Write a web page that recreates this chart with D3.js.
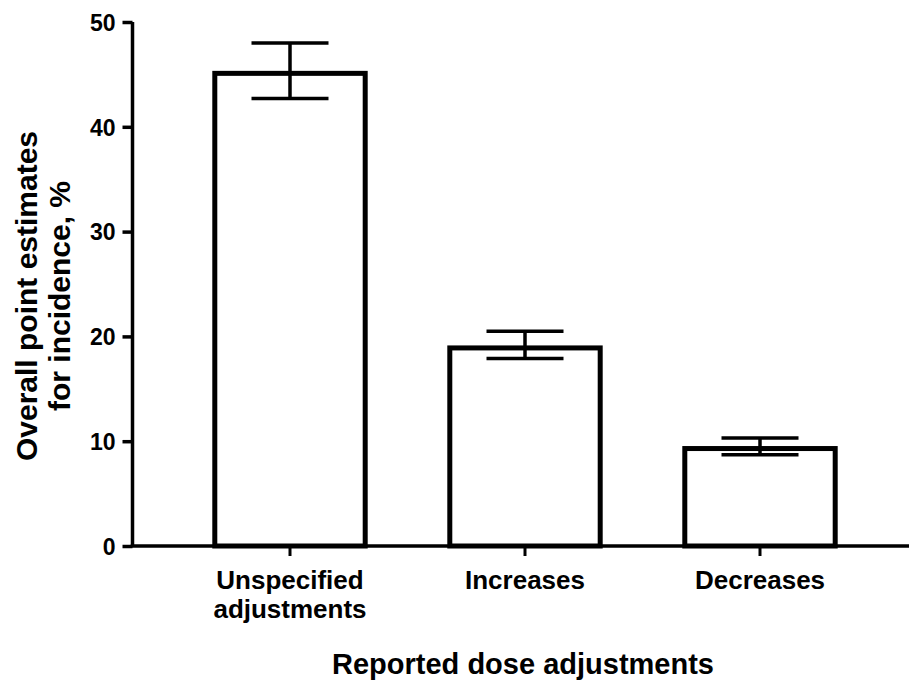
<!DOCTYPE html>
<html>
<head>
<meta charset="utf-8">
<script src="https://cdn.jsdelivr.net/npm/d3@7"></script>
<style>
  html, body { margin: 0; padding: 0; background: #fff; }
  svg { display: block; }
  text { font-family: "Liberation Sans", Arial, Helvetica, sans-serif; font-weight: bold; fill: #000; }
</style>
</head>
<body>
<svg id="chart" width="909" height="681"></svg>
<script>
// ---- data ----
const categories = ["Unspecified adjustments", "Increases", "Decreases"];
const categoryLines = [["Unspecified", "adjustments"], ["Increases"], ["Decreases"]];
const values = [45.1, 18.9, 9.3];
const errLow = [42.7, 17.9, 8.7];
const errHigh = [48.0, 20.5, 10.3];
const yTicks = [0, 10, 20, 30, 40, 50];
const xTitle = "Reported dose adjustments";
const yTitleLines = ["Overall point estimates", "for incidence, %"];

// ---- layout ----
const svg = d3.select("#chart");
const axisX = 132.5, axisY = 546;

const y = d3.scaleLinear().domain([0, 50]).range([546, 22]);
const x = d3.scaleBand().domain(categories).range([172.5, 877.5])
  .paddingInner(0.36).paddingOuter(0.18);

// bars
svg.append("g").selectAll("rect").data(categories).join("rect")
  .attr("x", d => x(d))
  .attr("width", x.bandwidth())
  .attr("y", (d, i) => y(values[i]))
  .attr("height", (d, i) => y(0) - y(values[i]))
  .attr("fill", "#fff")
  .attr("stroke", "#000")
  .attr("stroke-width", 5);

// error bars
const capHalf = 38.5;
const eg = svg.append("g").attr("stroke", "#000").attr("stroke-width", 3.5);
categories.forEach((c, i) => {
  const cx = x(c) + x.bandwidth() / 2;
  eg.append("line").attr("x1", cx).attr("x2", cx).attr("y1", y(errLow[i])).attr("y2", y(errHigh[i]));
  eg.append("line").attr("x1", cx - capHalf).attr("x2", cx + capHalf).attr("y1", y(errHigh[i])).attr("y2", y(errHigh[i]));
  eg.append("line").attr("x1", cx - capHalf).attr("x2", cx + capHalf).attr("y1", y(errLow[i])).attr("y2", y(errLow[i]));
});

// y axis
const yAxis = d3.axisLeft(y).tickValues(yTicks).tickSize(10).tickSizeOuter(0).tickPadding(7);
const gy = svg.append("g").attr("transform", `translate(${axisX},0)`).call(yAxis);
gy.select(".domain").attr("stroke-width", 3.5).attr("d", `M0,${y(50)}V${y(0)}`);
gy.selectAll(".tick line").attr("stroke-width", 3.5);
gy.selectAll(".tick text").style("font-size", "23px").attr("dy", "0.36em");

// x axis
const xAxis = d3.axisBottom(x).tickSize(10).tickSizeOuter(0).tickFormat("");
const gx = svg.append("g").attr("transform", `translate(0,${axisY})`).call(xAxis);
gx.select(".domain").remove();
gx.selectAll(".tick line").attr("stroke-width", 3);
gx.append("line").attr("x1", axisX - 1.75).attr("x2", 909).attr("y1", 0).attr("y2", 0)
  .attr("stroke", "#000").attr("stroke-width", 3.5);

// category labels
categories.forEach((c, i) => {
  const cx = x(c) + x.bandwidth() / 2;
  categoryLines[i].forEach((ln, j) => {
    svg.append("text").attr("text-anchor", "middle").style("font-size", "26px")
      .attr("x", cx).attr("y", 589 + j * 29).text(ln);
  });
});

// x title
svg.append("text").attr("text-anchor", "middle").attr("x", 523).attr("y", 674)
  .style("font-size", "29px").text(xTitle);

// y title
const yt = svg.append("text").attr("text-anchor", "middle")
  .attr("transform", "translate(0,296) rotate(-90)").style("font-size", "30px");
yTitleLines.forEach((ln, j) => {
  yt.append("tspan").attr("x", 0).attr("y", 37 + j * 33).text(ln);
});
</script>
</body>
</html>
